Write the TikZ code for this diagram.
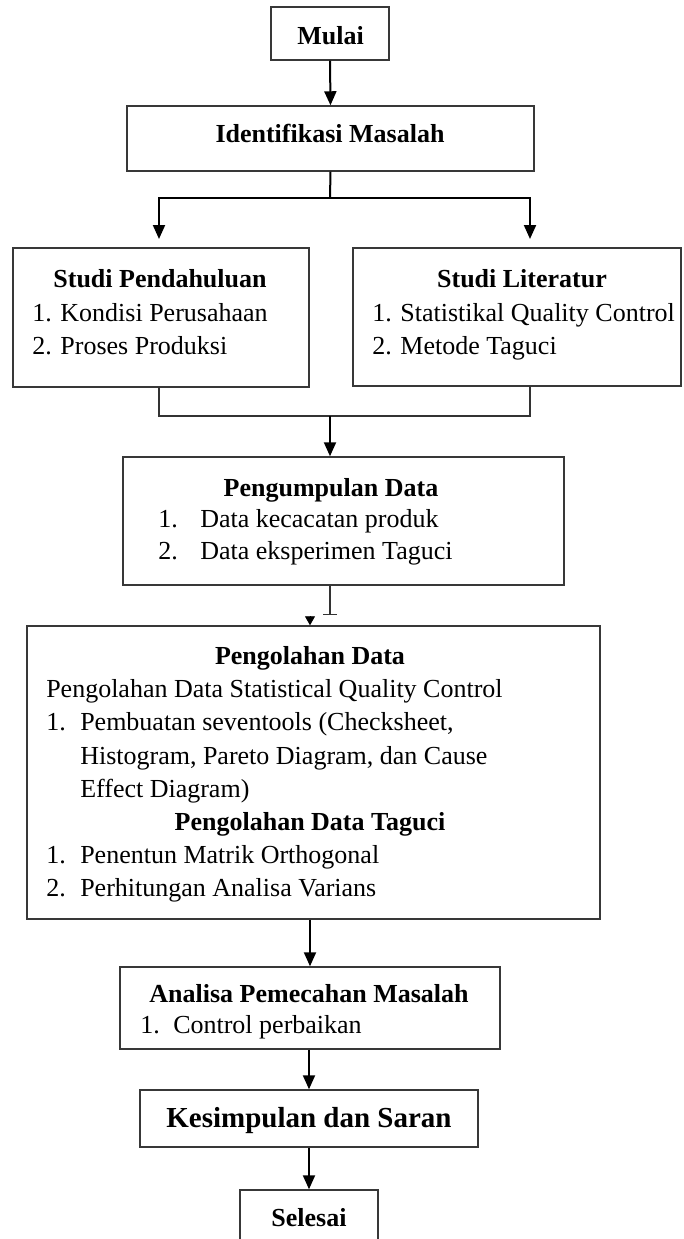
\documentclass[tikz,border=0pt]{standalone}
\usepackage{fontspec}
\setmainfont{Liberation Serif}
\usetikzlibrary{arrows.meta,fit}
\newcommand{\bodysize}{\fontsize{19.5pt}{24pt}\selectfont}
\begin{document}
\begin{tikzpicture}[x=0.75pt,y=-0.75pt,
  box/.style={draw=black!78, line width=1.1pt, inner sep=0pt},
  flow/.style={draw=black, line width=1.5pt, -{Triangle[length=10.5pt,width=9pt]}},
  link/.style={draw=black!80, line width=1.1pt},
  split/.style={draw=black, line width=1.5pt},
  ttl/.style={font=\bodysize\bfseries, inner sep=0pt, anchor=base},
  itm/.style={font=\bodysize, inner sep=0pt, anchor=base west}
]
\useasboundingbox (0,0) rectangle (683,1239);
\clip (0,0) rectangle (683,1239);

% boxes
\node[box, fit={(271,7) (389,60)}] (mulai) {};
\node[box, fit={(127,106) (534,171)}] (ident) {};
\node[box, fit={(13,248) (309,387)}] (pendah) {};
\node[box, fit={(353,248) (681,386)}] (lit) {};
\node[box, fit={(123,457) (564,585)}] (pengum) {};
\node[box, fit={(27,626) (600,919)}] (pengol) {};
\node[box, fit={(120,967) (500,1049)}] (analisa) {};
\node[box, fit={(140,1090) (478,1147)}] (kesim) {};
\node[box, fit={(240,1190) (378,1262)}] (selesai) {};

% texts
\node[ttl] (mulaiT) at (330.5,44) {Mulai};
\node[ttl] (identT) at (330,142) {Identifikasi Masalah};

\node[ttl] (pendahT) at (160,287) {Studi Pendahuluan};
\node[itm] (pendah1) at (32,321) {1. Kondisi Perusahaan};
\node[itm] (pendah2) at (32,354) {2. Proses Produksi};

\node[ttl] (litT) at (522,287) {Studi Literatur};
\node[itm] (lit1) at (372,321) {1. Statistikal Quality Control};
\node[itm] (lit2) at (372,354) {2. Metode Taguci};

\node[ttl] (pengumT) at (331,496) {Pengumpulan Data};
\node[itm] (pengum1n) at (158,527) {1.};
\node[itm] (pengum1) at (200,527) {Data kecacatan produk};
\node[itm] (pengum2n) at (158,559) {2.};
\node[itm] (pengum2) at (200,559) {Data eksperimen Taguci};

\node[ttl] (pengolT) at (310,664) {Pengolahan Data};
\node[itm] (sqc) at (46,697) {Pengolahan Data Statistical Quality Control};
\node[itm] (sqc1n) at (46,730) {1.};
\node[itm] (sqc1a) at (80,730) {Pembuatan seventools (Checksheet,};
\node[itm] (sqc1b) at (80,764) {Histogram, Pareto Diagram, dan Cause};
\node[itm] (sqc1c) at (80,797) {Effect Diagram)};
\node[ttl] (tagT) at (310,830) {Pengolahan Data Taguci};
\node[itm] (tag1n) at (46,863) {1.};
\node[itm] (tag1) at (80,863) {Penentun Matrik Orthogonal};
\node[itm] (tag2n) at (46,896) {2.};
\node[itm] (tag2) at (80,896) {Perhitungan Analisa Varians};

\node[ttl] (analisaT) at (309,1002) {Analisa Pemecahan Masalah};
\node[itm] (analisa1n) at (140,1033) {1.};
\node[itm] (analisa1) at (173,1033) {Control perbaikan};

\node[ttl, font=\fontsize{21.75pt}{26pt}\selectfont\bfseries] (kesimT) at (309,1127) {Kesimpulan dan Saran};
\node[ttl] (selesaiT) at (309,1226) {Selesai};

% connectors
\draw[flow] (mulai.south) -- (ident.north);

\coordinate (fork) at (330,198);
\coordinate (inL) at (159,239);
\coordinate (inR) at (530,239);
\draw[split] (ident.south) -- (fork);
\draw[flow] (fork) -| (inL);
\draw[flow] (fork) -| (inR);

\coordinate (outL) at (159,387);
\coordinate (outR) at (530,386);
\coordinate (merge) at (330,416);
\draw[link] (outL) |- (merge) -| (outR);
\draw[flow] (merge) -- (merge |- pengum.north);

\coordinate (tee) at (330,615);
\draw[link, -{Bar[width=10.5pt]}] (tee |- pengum.south) -- (tee);
\coordinate (nib) at (310,617);
\draw[draw=black, line width=0.6pt, -{Triangle[length=6.75pt,width=7.5pt]}] (nib) -- (nib |- pengol.north);

\draw[flow] (analisa.north |- pengol.south) -- (analisa.north);
\draw[flow] (kesim.north |- analisa.south) -- (kesim.north);
\draw[flow] (kesim.south) -- (selesai.north);
\end{tikzpicture}
\end{document}
